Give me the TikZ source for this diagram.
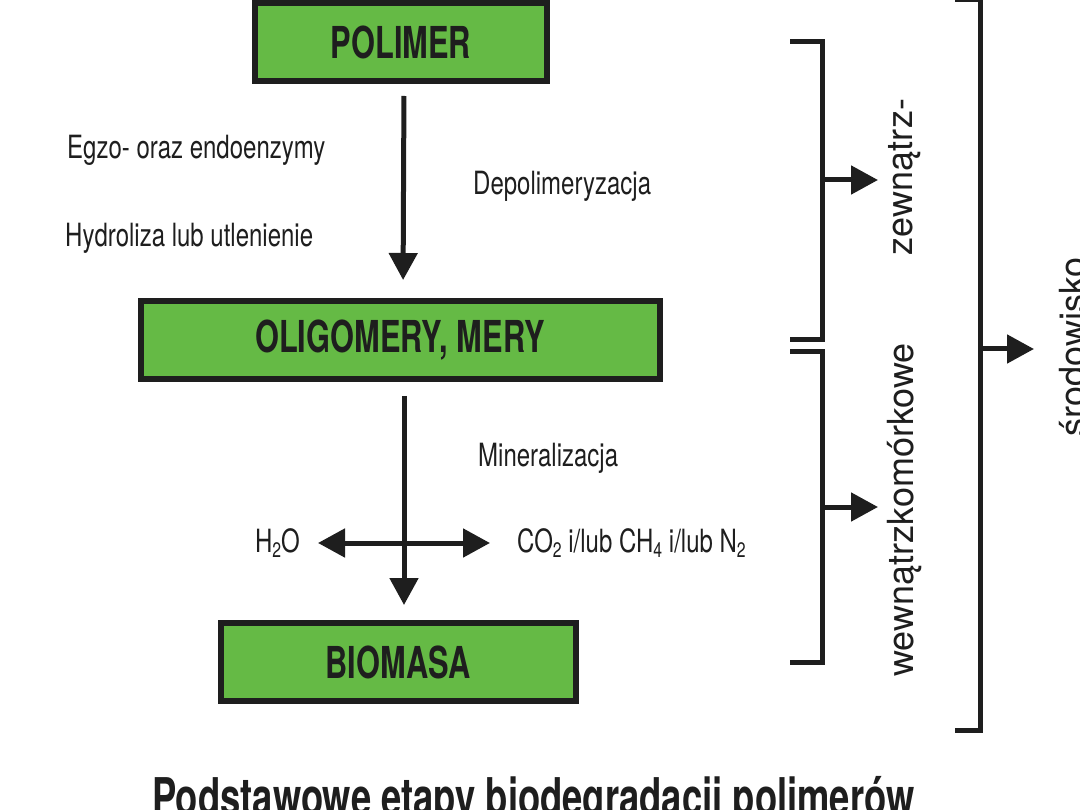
\documentclass[tikz,border=0pt]{standalone}
\usepackage{fontspec}
\setmainfont{TeX Gyre Heros}
\newfontfamily\condfont{TeX Gyre Heros}[FakeStretch=0.75]
\newfontfamily\boldcond{TeX Gyre Heros}[FakeStretch=0.70]
\usetikzlibrary{arrows.meta,positioning}
\definecolor{boxgreen}{RGB}{101,186,69}
\definecolor{ink}{RGB}{30,30,30}
\newcommand{\lowidx}[1]{\raisebox{-0.32ex}{\fontsize{21}{21}\selectfont #1}}
\begin{document}
\begin{tikzpicture}[x=1pt,y=-1pt,
  stage/.style={draw=ink,line width=6pt,fill=boxgreen,font=\boldcond\fontsize{44}{48}\selectfont\bfseries,text=ink,minimum height=78pt,inner sep=0pt},
  lab/.style={font=\condfont\fontsize{32}{36}\selectfont,text=ink,inner sep=0pt},
  flow/.style={draw=ink,line width=5pt,-{Triangle[width=28pt,length=27pt]}},
  twoway/.style={draw=ink,line width=5pt,{Triangle[width=28pt,length=27pt]}-{Triangle[width=28pt,length=27pt]}},
  brace/.style={draw=ink,line width=5pt},
  side/.style={font=\fontsize{36}{40}\selectfont,text=ink,inner sep=0pt,rotate=90}]
  \useasboundingbox (0,0) rectangle (1080,810);
  % stages
  \node[stage,minimum width=292pt] (polimer) at (401,42) {POLIMER};
  \node[stage,minimum width=519pt] (oligo) at (400,340) {OLIGOMERY, MERY};
  \node[stage,minimum width=355pt] (biomasa) at (398,662) {BIOMASA};
  % labels of the steps
  \node[lab,anchor=west] (egzo) at (67,150) {Egzo- oraz endoenzymy};
  \node[lab,anchor=west] (hydro) at (65,238) {Hydroliza lub utlenienie};
  \node[lab,anchor=west] (depol) at (473,186) {Depolimeryzacja};
  \node[lab,anchor=west] (miner) at (478,458) {Mineralizacja};
  \node[lab,anchor=east] (h2o) at (300,543) {H\lowidx{2}O};
  \node[lab,anchor=west] (co2) at (517,543) {CO\lowidx{2} i/lub CH\lowidx{4} i/lub N\lowidx{2}};
  % flow
  \draw[flow,shorten <=12pt,shorten >=18pt] ([xshift=3pt]polimer.south) -- ([xshift=3pt]oligo.north);
  \draw[flow,shorten <=14pt,shorten >=15pt] ([xshift=4pt]oligo.south) -- ([xshift=6pt]biomasa.north);
  \draw[twoway,shorten <=18pt,shorten >=27pt] (h2o.east) -- (co2.west);
  % brackets
  \draw[brace] (790,42) -| (822,340) -- (790,340);
  \draw[brace] (790,352) -| (822,662) -- (790,662);
  \draw[brace] (955,0) -| (980,730) -- (955,730);
  \coordinate (zewmid) at (822,180);
  \coordinate (wewmid) at (822,507);
  \coordinate (srodmid) at (980,349);
  \node[side] (zew) at (905,177) {zewnątrz-};
  \node[side] (wew) at (905,510) {wewnątrzkomórkowe};
  \node[side] (srod) at (1073,347) {środowisko};
  \draw[flow] (zewmid) -- ++(56,0);
  \draw[flow] (wewmid) -- ++(56,0);
  \draw[flow] (srodmid) -- ++(54,0);
  % title
  \node[font=\boldcond\fontsize{52}{56}\selectfont\bfseries,text=ink,anchor=north west,inner sep=0pt] (title) at (152,776) {Podstawowe etapy biodegradacji polimerów};
\end{tikzpicture}
\end{document}
